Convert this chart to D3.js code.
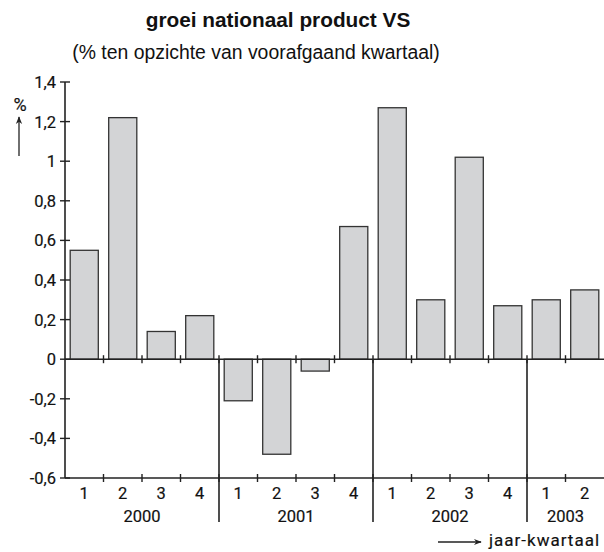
<!DOCTYPE html>
<html><head><meta charset="utf-8">
<script src="https://cdn.jsdelivr.net/npm/d3@7"></script>
<style>
body{margin:0;background:#fff;}
svg{display:block;}
.ax{font-family:Roboto, "Liberation Sans", sans-serif;font-size:16.5px;font-weight:400;fill:#111;stroke:#111;stroke-width:0.18px;}
</style></head>
<body>
<svg id="c" width="604" height="552"></svg>
<script>
const years = ["2000","2001","2002","2003"];
const quarterLabels = ["1","2","3","4","1","2","3","4","1","2","3","4","1","2"];
const quarterYears = ["2000","2000","2000","2000","2001","2001","2001","2001","2002","2002","2002","2002","2003","2003"];
const values = [0.55,1.22,0.14,0.22,-0.21,-0.48,-0.06,0.67,1.27,0.30,1.02,0.27,0.30,0.35];
const yTicks = [-0.6,-0.4,-0.2,0,0.2,0.4,0.6,0.8,1,1.2,1.4];

const svg = d3.select("#c");
const ids = values.map((v,i)=>i);
const x = d3.scaleBand().domain(ids).range([65,604]).paddingInner(0.27).paddingOuter(0.135);
const xb = d3.scaleBand().domain(ids).range([65,604]);
const y = d3.scaleLinear().domain([-0.6,1.4]).range([478,82]);
const fmt = v => (v===0?"0":String(v).replace(".",","));
const col = "#222";

// title
svg.append("text").attr("x",278).attr("y",27).attr("text-anchor","middle")
  .style("font-family","'Liberation Sans', Arial, sans-serif").style("font-size","20.8px").style("font-weight","bold").attr("fill","#111")
  .text("groei nationaal product VS");
svg.append("text").attr("x",256).attr("y",59).attr("text-anchor","middle")
  .style("font-family","'Liberation Sans', Arial, sans-serif").style("font-size","19.4px").attr("fill","#111")
  .text("(% ten opzichte van voorafgaand kwartaal)");

// bars
svg.append("g").selectAll("rect").data(values).join("rect")
  .attr("x",(d,i)=>x(i)).attr("width",x.bandwidth())
  .attr("y",d=>y(Math.max(0,d))).attr("height",d=>Math.abs(y(d)-y(0)))
  .attr("fill","#d3d4d6").attr("stroke","#333").attr("stroke-width",1.3);

// y axis
const g = svg.append("g");
g.append("line").attr("x1",65).attr("x2",65).attr("y1",y(1.4)).attr("y2",y(-0.6)).attr("stroke",col).attr("stroke-width",1.6);
g.selectAll(".yt").data(yTicks).join("line").attr("x1",60).attr("x2",70)
  .attr("y1",d=>y(d)).attr("y2",d=>y(d)).attr("stroke",col).attr("stroke-width",1.4);
g.selectAll(".yl").data(yTicks).join("text").attr("class","ax").attr("x",56).attr("y",d=>y(d)+6)
  .attr("text-anchor","end").text(fmt);

// zero line and bottom axis
[0,-0.6].forEach(v=>{
  g.append("line").attr("x1",65).attr("x2",604).attr("y1",y(v)).attr("y2",y(v)).attr("stroke",col).attr("stroke-width",1.6);
});
const bounds = ids.slice(1).map(i=>xb(i));
[0,-0.6].forEach(v=>{
  g.selectAll(null).data(bounds).join("line").attr("x1",d=>d).attr("x2",d=>d)
    .attr("y1",y(v)-4).attr("y2",y(v)+4).attr("stroke",col).attr("stroke-width",1.4);
});
// year separators
const sepIdx = quarterYears.map((q,i)=>i).filter(i=>i>0 && quarterYears[i]!==quarterYears[i-1]);
g.selectAll(".sep").data(sepIdx).join("line").attr("x1",i=>xb(i)).attr("x2",i=>xb(i))
  .attr("y1",y(0)).attr("y2",522).attr("stroke",col).attr("stroke-width",1.6);

// quarter labels
g.selectAll(".ql").data(quarterLabels).join("text").attr("class","ax")
  .attr("x",(d,i)=>xb(i)+xb.bandwidth()/2).attr("y",499).attr("text-anchor","middle").text(d=>d);
// year labels
g.selectAll(".yrl").data(years).join("text").attr("class","ax")
  .attr("x",yr=>{const idx=quarterYears.map((q,i)=>q===yr?i:-1).filter(i=>i>=0);
     return (xb(idx[0])+xb(idx[idx.length-1])+xb.bandwidth())/2;})
  .attr("y",522).attr("text-anchor","middle").text(d=>d);

// axis titles
svg.append("text").attr("class","ax").attr("x",20).attr("y",111).attr("text-anchor","middle").style("font-size","18px").text("%");
svg.append("defs").append("marker").attr("id","ah").attr("viewBox","0 0 10 10").attr("refX",9).attr("refY",5)
  .attr("markerWidth",8).attr("markerHeight",6).attr("orient","auto")
  .append("path").attr("d","M0,1 L10,5 L0,9 L3,5 Z").attr("fill",col);
svg.append("line").attr("x1",19).attr("x2",19).attr("y1",156).attr("y2",117).attr("stroke",col).attr("stroke-width",1.3).attr("marker-end","url(#ah)");
svg.append("line").attr("x1",438).attr("x2",481).attr("y1",542).attr("y2",542).attr("stroke",col).attr("stroke-width",1.3).attr("marker-end","url(#ah)");
svg.append("text").attr("class","ax").attr("x",489).attr("y",546).style("letter-spacing","1px").style("font-size","17px").text("jaar-kwartaal");
</script>
</body></html>
